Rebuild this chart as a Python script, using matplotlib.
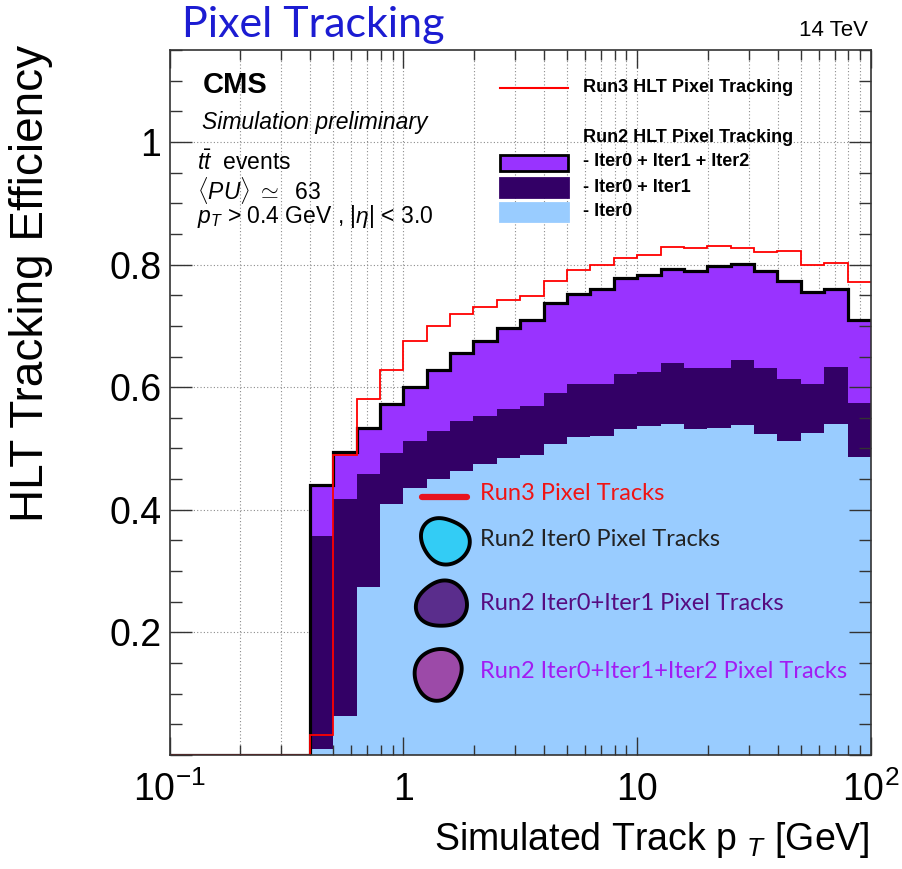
import matplotlib.pyplot as plt
import matplotlib.patches as mpatches
from matplotlib.lines import Line2D
from matplotlib.ticker import FixedLocator, LogLocator, MultipleLocator, NullFormatter
import numpy as np

plt.rcParams["font.family"] = ["Liberation Sans", "DejaVu Sans"]
plt.rcParams["mathtext.fontset"] = "custom"
plt.rcParams["mathtext.rm"] = "Liberation Sans"
plt.rcParams["mathtext.it"] = "Liberation Sans:italic"
plt.rcParams["mathtext.bf"] = "Liberation Sans:bold"

W, H = 903, 869

# track pT binning: 10 log bins per decade, 0.1 -> 100 GeV
pt_edges = np.logspace(-1, 2, 31)

# efficiencies per bin
eff_run3 = [0, 0, 0, 0, 0, 0,
            0.033, 0.489, 0.580, 0.628, 0.675, 0.700, 0.719, 0.730, 0.742,
            0.749, 0.773, 0.791, 0.799, 0.811, 0.816, 0.828, 0.827, 0.830,
            0.827, 0.821, 0.822, 0.799, 0.803, 0.771]
eff_iter012 = [0, 0, 0, 0, 0, 0,
               0.441, 0.495, 0.533, 0.573, 0.601, 0.628, 0.656, 0.675, 0.696,
               0.709, 0.737, 0.752, 0.760, 0.778, 0.783, 0.792, 0.790, 0.797,
               0.801, 0.789, 0.774, 0.755, 0.760, 0.709]
eff_iter01 = [0, 0, 0, 0, 0, 0,
              0.357, 0.418, 0.458, 0.492, 0.512, 0.528, 0.545, 0.553, 0.565,
              0.569, 0.590, 0.605, 0.605, 0.621, 0.625, 0.639, 0.632, 0.632,
              0.644, 0.631, 0.614, 0.605, 0.633, 0.574]
eff_iter0 = [0, 0, 0, 0, 0, 0,
             0.009, 0.063, 0.274, 0.410, 0.436, 0.451, 0.463, 0.474, 0.485,
             0.490, 0.508, 0.519, 0.520, 0.531, 0.537, 0.540, 0.531, 0.534,
             0.539, 0.524, 0.512, 0.526, 0.540, 0.486]

x_ticks = [0.1, 1, 10, 100]
x_ticklabels = [r"$10^{-1}$", "1", "10", r"$10^{2}$"]
y_ticks = [0, 0.2, 0.4, 0.6, 0.8, 1.0]
y_ticklabels = ["", "0.2", "0.4", "0.6", "0.8", "1"]

C_ITER012 = "#9933ff"
C_ITER01 = "#330066"
C_ITER0 = "#99ccff"
C_RUN3 = "#ff0000"
HAND_FONT = ["Lato", "DejaVu Sans"]


def fx(px):
    return px / W


def fy(py):
    return 1 - py / H


fig = plt.figure(figsize=(W / 100, H / 100), dpi=100)
ax = fig.add_axes([fx(169.5), fy(755), 701.5 / W, 705 / H])
ax.set_xscale("log")
ax.set_xlim(0.1, 100)
ax.set_ylim(0, 1.15)

# dotted grid, kept under the filled histograms
grid_x = [m * 10.0 ** e for e in (-1, 0, 1) for m in range(1, 10)][1:]
for gx in grid_x:
    ax.axvline(gx, color="#8c8c8c", ls=(0, (1, 2)), lw=0.8, zorder=0.5)
for gy in y_ticks[1:]:
    ax.axhline(gy, color="#8c8c8c", ls=(0, (1, 2)), lw=0.8, zorder=0.5)

# stacked Run2 iterations (each one drawn over the previous)
ax.stairs(eff_iter012, pt_edges, fill=True, color=C_ITER012, lw=0, zorder=1)
ax.stairs(eff_iter01, pt_edges, fill=True, color=C_ITER01, lw=0, zorder=1.1)
ax.stairs(eff_iter0, pt_edges, fill=True, color=C_ITER0, lw=0, zorder=1.2)
ax.stairs(eff_iter012, pt_edges, baseline=None, color="black", lw=2.3, zorder=3)
ax.stairs(eff_run3, pt_edges, baseline=None, color=C_RUN3, lw=1.3, zorder=3.1)

ax.xaxis.set_major_locator(FixedLocator(x_ticks))
ax.set_xticklabels(x_ticklabels)
ax.xaxis.set_minor_locator(LogLocator(base=10, subs=range(2, 10)))
ax.xaxis.set_minor_formatter(NullFormatter())
ax.yaxis.set_major_locator(FixedLocator(y_ticks))
ax.set_yticklabels(y_ticklabels)
ax.yaxis.set_minor_locator(MultipleLocator(0.05))

ax.tick_params(which="both", direction="in", top=True, right=True,
               labelsize=27, color="#333333")
ax.tick_params(axis="y", which="major", length=16, width=1, pad=6)
ax.tick_params(axis="y", which="minor", length=8.5, width=1)
ax.tick_params(axis="x", which="major", length=13, width=1, pad=12)
ax.tick_params(axis="x", which="minor", length=7, width=1)
for sp in ax.spines.values():
    sp.set_color("#333333")
    sp.set_linewidth(1.2)
    sp.set_zorder(4)

fig.text(fx(31), fy(45), "HLT Tracking Efficiency", rotation=90,
         ha="center", va="top", fontsize=33)
fig.text(fx(870), fy(840), r"Simulated Track p $_{T}$ [GeV]",
         ha="right", va="center", fontsize=27)

fig.text(fx(182), fy(25), "Pixel Tracking", family=HAND_FONT,
         fontsize=31, color="#1c1cd2", ha="left", va="center")
fig.text(fx(868), fy(31), "14 TeV", family=["Liberation Sans Narrow", "Liberation Sans"],
         fontsize=16, ha="right", va="center")

# CMS labels
fig.text(fx(203), fy(85), "CMS", fontsize=21, fontweight="bold", va="center")
fig.text(fx(202), fy(123), "Simulation preliminary", fontsize=16.5,
         style="italic", va="center")
fig.text(fx(197), fy(163), r"$t\bar{t}$  events", fontsize=16.5, va="center")
fig.text(fx(197), fy(190), r"$\langle PU\rangle\ \simeq$  63", fontsize=16.5, va="center")
fig.text(fx(197), fy(217), r"$p_{T}$ > 0.4 GeV , $|\eta|$ < 3.0",
         fontsize=16.5, va="center")

# legend, drawn by hand
fig.add_artist(Line2D([fx(500), fx(568)], [fy(88), fy(88)], color=C_RUN3, lw=1.5))
legend_boxes = [(155, 171, C_ITER012, "black"),
                (178, 197, C_ITER01, C_ITER01),
                (203, 221, C_ITER0, C_ITER0)]
for top, bot, face, edge in legend_boxes:
    fig.add_artist(mpatches.Rectangle((fx(500), fy(bot)), 68 / W, (bot - top) / H,
                                      facecolor=face, edgecolor=edge, lw=2,
                                      transform=fig.transFigure))
legend_text = [(88, "Run3 HLT Pixel Tracking"),
               (137, "Run2 HLT Pixel Tracking"),
               (162, "- Iter0 + Iter1 + Iter2"),
               (187, "- Iter0 + Iter1"),
               (211, "- Iter0")]
for py, txt in legend_text:
    fig.text(fx(583), fy(py), txt, fontsize=13, fontweight="bold", va="center")


# hand-drawn markers for the annotations
def blob(cx, cy, r, phase, face):
    t = np.linspace(0, 2 * np.pi, 90)
    wob = 1 + 0.07 * np.sin(2 * t + phase) + 0.04 * np.cos(3 * t + 2 * phase)
    xs = fx(cx + r * wob * np.cos(t))
    ys = fy(cy + r * wob * np.sin(t))
    fig.add_artist(mpatches.Polygon(np.column_stack([xs, ys]), closed=True,
                                    facecolor=face, edgecolor="black", lw=2.8,
                                    transform=fig.transFigure, zorder=5))


fig.add_artist(Line2D([fx(422), fx(467)], [fy(497), fy(497)], color="#e8141e",
                      lw=4.5, solid_capstyle="round", zorder=5))
blob(445, 541, 23.5, 0.4, "#33ccf5")
blob(442, 604, 24, 2.1, "#5a2d8c")
blob(438, 674, 24.5, 4.0, "#9c4aa8")

notes = [(494, "Run3 Pixel Tracks", "#f01414"),
         (539, "Run2 Iter0 Pixel Tracks", "#222222"),
         (604, "Run2 Iter0+Iter1 Pixel Tracks", "#560c80"),
         (672, "Run2 Iter0+Iter1+Iter2 Pixel Tracks", "#a21cf2")]
for py, txt, col in notes:
    fig.text(fx(480), fy(py), txt, family=HAND_FONT, fontsize=17,
             color=col, va="center", zorder=5)

fig.savefig("out.png", dpi=100)
